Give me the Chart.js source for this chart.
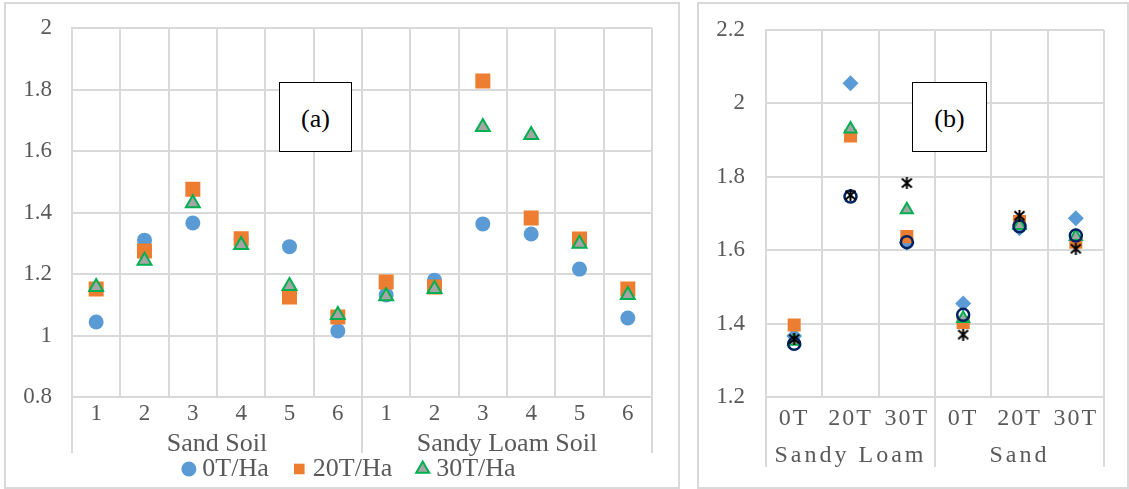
<!DOCTYPE html>
<html>
<head>
<meta charset="utf-8">
<script src="https://cdn.jsdelivr.net/npm/chart.js@4/dist/chart.umd.min.js"></script>
<style>
  html, body { margin: 0; padding: 0; background: #fff; width: 1129px; height: 489px; overflow: hidden; }
  .panel { position: absolute; border: 2px solid #d9d9d9; box-sizing: border-box; background: #fff; }
  #panelA { left: 4px; top: 2px; width: 676px; height: 487px; }
  #panelB { left: 697px; top: 2px; width: 432px; height: 487px; }
  .panel canvas { position: absolute; left: 0; top: 0; }
  .tag { position: absolute; box-sizing: border-box; border: 1.5px solid #000; background: #fff;
         font-family: 'Liberation Serif', 'Times New Roman', serif; font-size: 26px; color: #000;
         display: flex; align-items: center; justify-content: center; padding-top: 4px; }
  #tagA { left: 279px; top: 82px; width: 73px; height: 70px; }
  #tagB { left: 912px; top: 82px; width: 75px; height: 70px; }
</style>
</head>
<body>
<div class="panel" id="panelA"><canvas id="chartA" width="672" height="483"></canvas></div>
<div class="panel" id="panelB"><canvas id="chartB" width="428" height="483"></canvas></div>
<div class="tag" id="tagA">(a)</div>
<div class="tag" id="tagB">(b)</div>
<script>
// ---- Panel (a): six sampling points in each soil, three manure rates ----
const sampleLabelsA = ['1', '2', '3', '4', '5', '6', '1', '2', '3', '4', '5', '6'];
const soilGroupsA = ['Sand Soil', 'Sandy Loam Soil'];
const rate0A  = [1.044, 1.310, 1.366, 1.312, 1.289, 1.015, 1.132, 1.180, 1.363, 1.330, 1.216, 1.057];
const rate20A = [1.151, 1.275, 1.476, 1.315, 1.125, 1.060, 1.174, 1.158, 1.828, 1.382, 1.314, 1.151];
const rate30A = [1.158, 1.243, 1.430, 1.294, 1.161, 1.067, 1.128, 1.151, 1.678, 1.652, 1.298, 1.132];

// ---- Panel (b): manure rate within each soil, five series ----
const rateLabelsB = ['0T', '20T', '30T', '0T', '20T', '30T'];
const soilGroupsB = ['Sandy Loam', 'Sand'];
const seriesB1 = [1.366, 2.055, 1.620, 1.455, 1.660, 1.687];
const seriesB2 = [1.396, 1.911, 1.637, 1.403, 1.678, 1.622];
const seriesB3 = [1.352, 1.930, 1.710, 1.414, 1.667, 1.637];
const seriesB4 = [1.345, 1.746, 1.622, 1.424, 1.665, 1.640];
const seriesB5 = [1.358, 1.750, 1.783, 1.370, 1.694, 1.604];

const serif = "'Liberation Serif', 'Times New Roman', serif";
const gridGray = '#d9d9d9';
const textGray = '#595959';

// Category axis whose labels can be drawn with extra letter spacing
class SpacedCategoryScale extends Chart.CategoryScale {
  drawLabels(chartArea) {
    const ctx = this.ctx;
    ctx.save();
    ctx.letterSpacing = this.options.letterSpacing || '0px';
    super.drawLabels(chartArea);
    ctx.restore();
  }
}
SpacedCategoryScale.id = 'spacedCategory';
SpacedCategoryScale.defaults = Chart.CategoryScale.defaults;
Chart.register(SpacedCategoryScale);

// Vertical separators between the soil groups, below the plot area
const groupDividers = {
  id: 'groupDividers',
  afterDraw(chart, args, opts) {
    const x = chart.scales.x;
    const n = x.ticks.length;
    const ctx = chart.ctx;
    ctx.save();
    ctx.strokeStyle = opts.color;
    ctx.lineWidth = opts.lineWidth;
    for (let i = 0; i <= n; i += opts.groupSize) {
      let px;
      if (i === 0) px = x.left;
      else if (i === n) px = x.right;
      else px = (x.getPixelForTick(i - 1) + x.getPixelForTick(i)) / 2;
      ctx.beginPath();
      ctx.moveTo(px, chart.chartArea.bottom);
      ctx.lineTo(px, opts.bottom);
      ctx.stroke();
    }
    ctx.restore();
  }
};

// Places the legend row at a fixed text line, independent of its item padding
const legendRow = {
  id: 'legendRow',
  afterLayout(chart, args, opts) {
    const lg = chart.legend;
    if (!lg || opts.y === undefined) return;
    const top = opts.y - opts.padding - opts.fontSize / 2;
    lg.top = top;
    lg.bottom = chart.height;
    lg.height = lg.bottom - lg.top;
    lg.left += opts.dx;
    lg.right += opts.dx;
  }
};

// Asterisk marker: an X crossed by a vertical stroke
function asteriskMarker() {
  const c = document.createElement('canvas');
  c.width = 13; c.height = 12;
  const g = c.getContext('2d');
  g.strokeStyle = '#000';
  g.lineWidth = 2;
  g.beginPath();
  g.moveTo(1.5, 1.5); g.lineTo(11.5, 10.5);
  g.moveTo(11.5, 1.5); g.lineTo(1.5, 10.5);
  g.moveTo(6.5, 0); g.lineTo(6.5, 12);
  g.stroke();
  return c;
}

function pointSet(label, data, style, radius, fill, stroke, width, order) {
  return {
    label, data, order,
    showLine: false,
    pointStyle: style,
    pointRadius: radius,
    pointHoverRadius: radius,
    pointBackgroundColor: fill,
    pointBorderColor: stroke,
    pointBorderWidth: width,
    backgroundColor: fill,
    borderColor: stroke,
    borderWidth: width
  };
}

function valueAxis(min, max, width, pad) {
  return {
    min, max,
    grid: { color: gridGray, lineWidth: 2, drawTicks: false },
    border: { color: gridGray, width: 2 },
    ticks: { stepSize: 0.2, color: textGray, padding: pad, font: { family: serif, size: 23 },
             callback: v => String(Math.round(v * 10) / 10) },
    afterFit: s => { s.width = width; s.paddingTop = 0; s.paddingBottom = 0; }
  };
}

const legendPad = 30;

new Chart(document.getElementById('chartA'), {
  type: 'line',
  data: {
    labels: sampleLabelsA,
    datasets: [
      pointSet('0T/Ha', rate0A, 'circle', 7.5, '#5b9bd5', '#5b9bd5', 0, 3),
      pointSet('20T/Ha', rate20A, 'rect', 10.6, '#ed7d31', '#ed7d31', 0, 2),
      pointSet('30T/Ha', rate30A, 'triangle', 8, '#a5a5a5', '#00b050', 2, 1)
    ]
  },
  options: {
    responsive: false, animation: false, events: [], devicePixelRatio: 1,
    layout: { padding: { left: 0, right: 26, top: 24, bottom: 0 } },
    plugins: {
      tooltip: { enabled: false },
      legend: {
        position: 'bottom', maxHeight: 25,
        labels: {
          usePointStyle: true, boxWidth: 1, boxHeight: 10.6, padding: legendPad,
          color: textGray, font: { family: serif, size: 26 },
          sort: (a, b) => a.datasetIndex - b.datasetIndex
        }
      },
      groupDividers: { color: gridGray, lineWidth: 2, groupSize: 6, bottom: 449 },
      legendRow: { y: 465, padding: legendPad, fontSize: 26, dx: 23 }
    },
    scales: {
      x: {
        type: 'category', position: 'bottom', offset: true,
        grid: { color: gridGray, lineWidth: 2, drawTicks: false, offset: true },
        border: { color: gridGray, width: 2 },
        ticks: { color: textGray, padding: 5, maxRotation: 0, autoSkip: false,
                 font: { family: serif, size: 23, lineHeight: 1 } },
        afterFit: s => { s.height = 25; }
      },
      x2: {
        type: 'category', position: 'bottom', labels: soilGroupsA, offset: true, weight: 1,
        grid: { display: false }, border: { display: false },
        ticks: { color: textGray, padding: 1, maxRotation: 0, autoSkip: false,
                 font: { family: serif, size: 26, lineHeight: 1 } },
        afterFit: s => { s.height = 40; }
      },
      y: valueAxis(0.8, 2, 66, 20)
    }
  },
  plugins: [groupDividers, legendRow]
});

new Chart(document.getElementById('chartB'), {
  type: 'line',
  data: {
    labels: rateLabelsB,
    datasets: [
      pointSet('Series 1', seriesB1, 'rectRot', 8, '#5b9bd5', '#5b9bd5', 0, 5),
      pointSet('Series 2', seriesB2, 'rect', 9.2, '#ed7d31', '#ed7d31', 0, 4),
      pointSet('Series 3', seriesB3, 'triangle', 7, '#a5a5a5', '#00b050', 2, 3),
      pointSet('Series 4', seriesB4, 'circle', 6, 'rgba(0,0,0,0)', '#002060', 2.5, 2),
      pointSet('Series 5', seriesB5, asteriskMarker(), 6, '#000', '#000', 0, 1)
    ]
  },
  options: {
    responsive: false, animation: false, events: [], devicePixelRatio: 1,
    layout: { padding: { left: 0, right: 23, top: 26, bottom: 11 } },
    plugins: {
      tooltip: { enabled: false },
      legend: { display: false },
      groupDividers: { color: gridGray, lineWidth: 2, groupSize: 3, bottom: 463 }
    },
    scales: {
      x: {
        type: 'spacedCategory', position: 'bottom', offset: true, letterSpacing: '2px',
        grid: { color: gridGray, lineWidth: 2, drawTicks: false, offset: true },
        border: { color: gridGray, width: 2 },
        ticks: { color: textGray, padding: 10, maxRotation: 0, autoSkip: false,
                 font: { family: serif, size: 24, lineHeight: 1 } },
        afterFit: s => { s.height = 34; }
      },
      x2: {
        type: 'spacedCategory', position: 'bottom', labels: soilGroupsB, offset: true, weight: 1,
        letterSpacing: '3px',
        grid: { display: false }, border: { display: false },
        ticks: { color: textGray, padding: 5, maxRotation: 0, autoSkip: false,
                 font: { family: serif, size: 24, lineHeight: 1 } },
        afterFit: s => { s.height = 45; }
      },
      y: valueAxis(1.2, 2.2, 67, 21)
    }
  },
  plugins: [groupDividers]
});
</script>
</body>
</html>
